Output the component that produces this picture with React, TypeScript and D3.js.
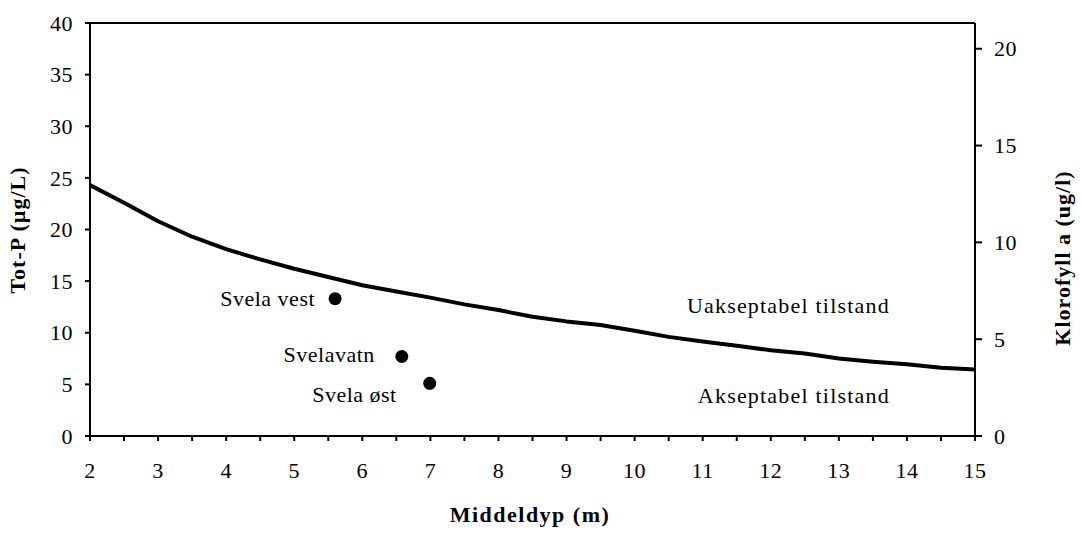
import React from "react";
import * as d3 from "d3";

const depthTicks = [2, 3, 4, 5, 6, 7, 8, 9, 10, 11, 12, 13, 14, 15];
const totPTicks = [0, 5, 10, 15, 20, 25, 30, 35, 40];
const chlTicks = [0, 5, 10, 15, 20];

const curveDepth = [2, 2.5, 3, 3.5, 4, 4.5, 5, 5.5, 6, 6.5, 7, 7.5, 8, 8.5, 9, 9.5, 10, 10.5, 11, 11.5, 12, 12.5, 13, 13.5, 14, 14.5, 15];
const curveTotP = [24.3, 22.6, 20.8, 19.3, 18.1, 17.1, 16.2, 15.4, 14.6, 14.0, 13.4, 12.75, 12.2, 11.55, 11.1, 10.75, 10.2, 9.6, 9.15, 8.75, 8.3, 8.0, 7.5, 7.2, 6.95, 6.6, 6.45];

const lakeNames = ["Svela vest", "Svelavatn", "Svela øst"];
const lakeDepth = [5.6, 6.58, 6.99];
const lakeTotP = [13.3, 7.7, 5.1];
const labelDx = [-20, -27, -33];
const labelDy = [7, 6, 19];

const regionLabels = ["Uakseptabel tilstand", "Akseptabel tilstand"];
const regionDepth = [13.75, 13.75];
const regionTotP = [11.9, 3.2];

export default function App() {
  const W = 1081, H = 533;
  const left = 90, right = 975, top = 23, bottom = 436;
  const x = d3.scaleLinear().domain([2, 15]).range([left, right]);
  const y = d3.scaleLinear().domain([0, 40]).range([bottom, top]);
  const y2 = d3.scaleLinear().domain([0, 21.33]).range([bottom, top]);

  const pts = curveDepth.map((d, i) => [d, curveTotP[i]] as [number, number]);
  const line = d3.line<[number, number]>().x(d => x(d[0])).y(d => y(d[1]));
  const minor = d3.range(2, 15.01, 0.5);

  const font = "'Liberation Serif', 'Times New Roman', serif";
  const fs = 22;

  return (
    <svg width={W} height={H} style={{ position: "absolute", left: 0, top: 0, background: "#fff" }} fontFamily={font}>
      <rect x={0} y={0} width={W} height={H} fill="#fff" />
      <line x1={left - 4} x2={right} y1={top} y2={top} stroke="#000" strokeWidth={2} />
      <line x1={right} x2={right} y1={top} y2={bottom} stroke="#000" strokeWidth={2} />
      <line x1={left} x2={left} y1={top} y2={bottom + 5} stroke="#000" strokeWidth={2} />
      <line x1={left - 5} x2={right} y1={bottom} y2={bottom} stroke="#000" strokeWidth={2} />
      {totPTicks.map(t => (
        <g key={"l" + t}>
          <line x1={left - 5} x2={left} y1={y(t)} y2={y(t)} stroke="#000" strokeWidth={2} />
          <text x={left - 17} y={y(t)} dy="0.35em" textAnchor="end" fontSize={fs} letterSpacing={0.5}>{t}</text>
        </g>
      ))}
      {chlTicks.map(t => (
        <g key={"r" + t}>
          <line x1={right} x2={right + 7} y1={y2(t)} y2={y2(t)} stroke="#000" strokeWidth={2} />
          <text x={right + 19} y={y2(t)} dy="0.35em" textAnchor="start" fontSize={fs} letterSpacing={0.5}>{t}</text>
        </g>
      ))}
      {minor.map(t => (
        <line key={"b" + t} x1={x(t)} x2={x(t)} y1={bottom} y2={bottom + 5} stroke="#000" strokeWidth={2} />
      ))}
      {depthTicks.map(t => (
        <text key={"bt" + t} x={x(t)} y={478} textAnchor="middle" fontSize={fs} letterSpacing={0.5}>{t}</text>
      ))}
      <text x={530} y={522} textAnchor="middle" fontSize={fs} fontWeight="bold" letterSpacing={1.5}>Middeldyp (m)</text>
      <text transform={`translate(25,${230}) rotate(-90)`} textAnchor="middle" fontSize={fs} fontWeight="bold" letterSpacing={1}>Tot-P (µg/L)</text>
      <text transform={`translate(1070,${258}) rotate(-90)`} textAnchor="middle" fontSize={fs} fontWeight="bold" letterSpacing={1}>Klorofyll a (ug/l)</text>
      <path d={line(pts) || ""} fill="none" stroke="#000" strokeWidth={4} strokeLinejoin="round" />
      {lakeNames.map((n, i) => (
        <g key={n}>
          <circle cx={x(lakeDepth[i])} cy={y(lakeTotP[i])} r={6.5} fill="#000" />
          <text x={x(lakeDepth[i]) + labelDx[i]} y={y(lakeTotP[i]) + labelDy[i]} textAnchor="end" fontSize={fs} letterSpacing={0.5}>{n}</text>
        </g>
      ))}
      {regionLabels.map((n, i) => (
        <text key={n} x={x(regionDepth[i])} y={y(regionTotP[i])} textAnchor="end" fontSize={fs} letterSpacing={1.2}>{n}</text>
      ))}
    </svg>
  );
}
